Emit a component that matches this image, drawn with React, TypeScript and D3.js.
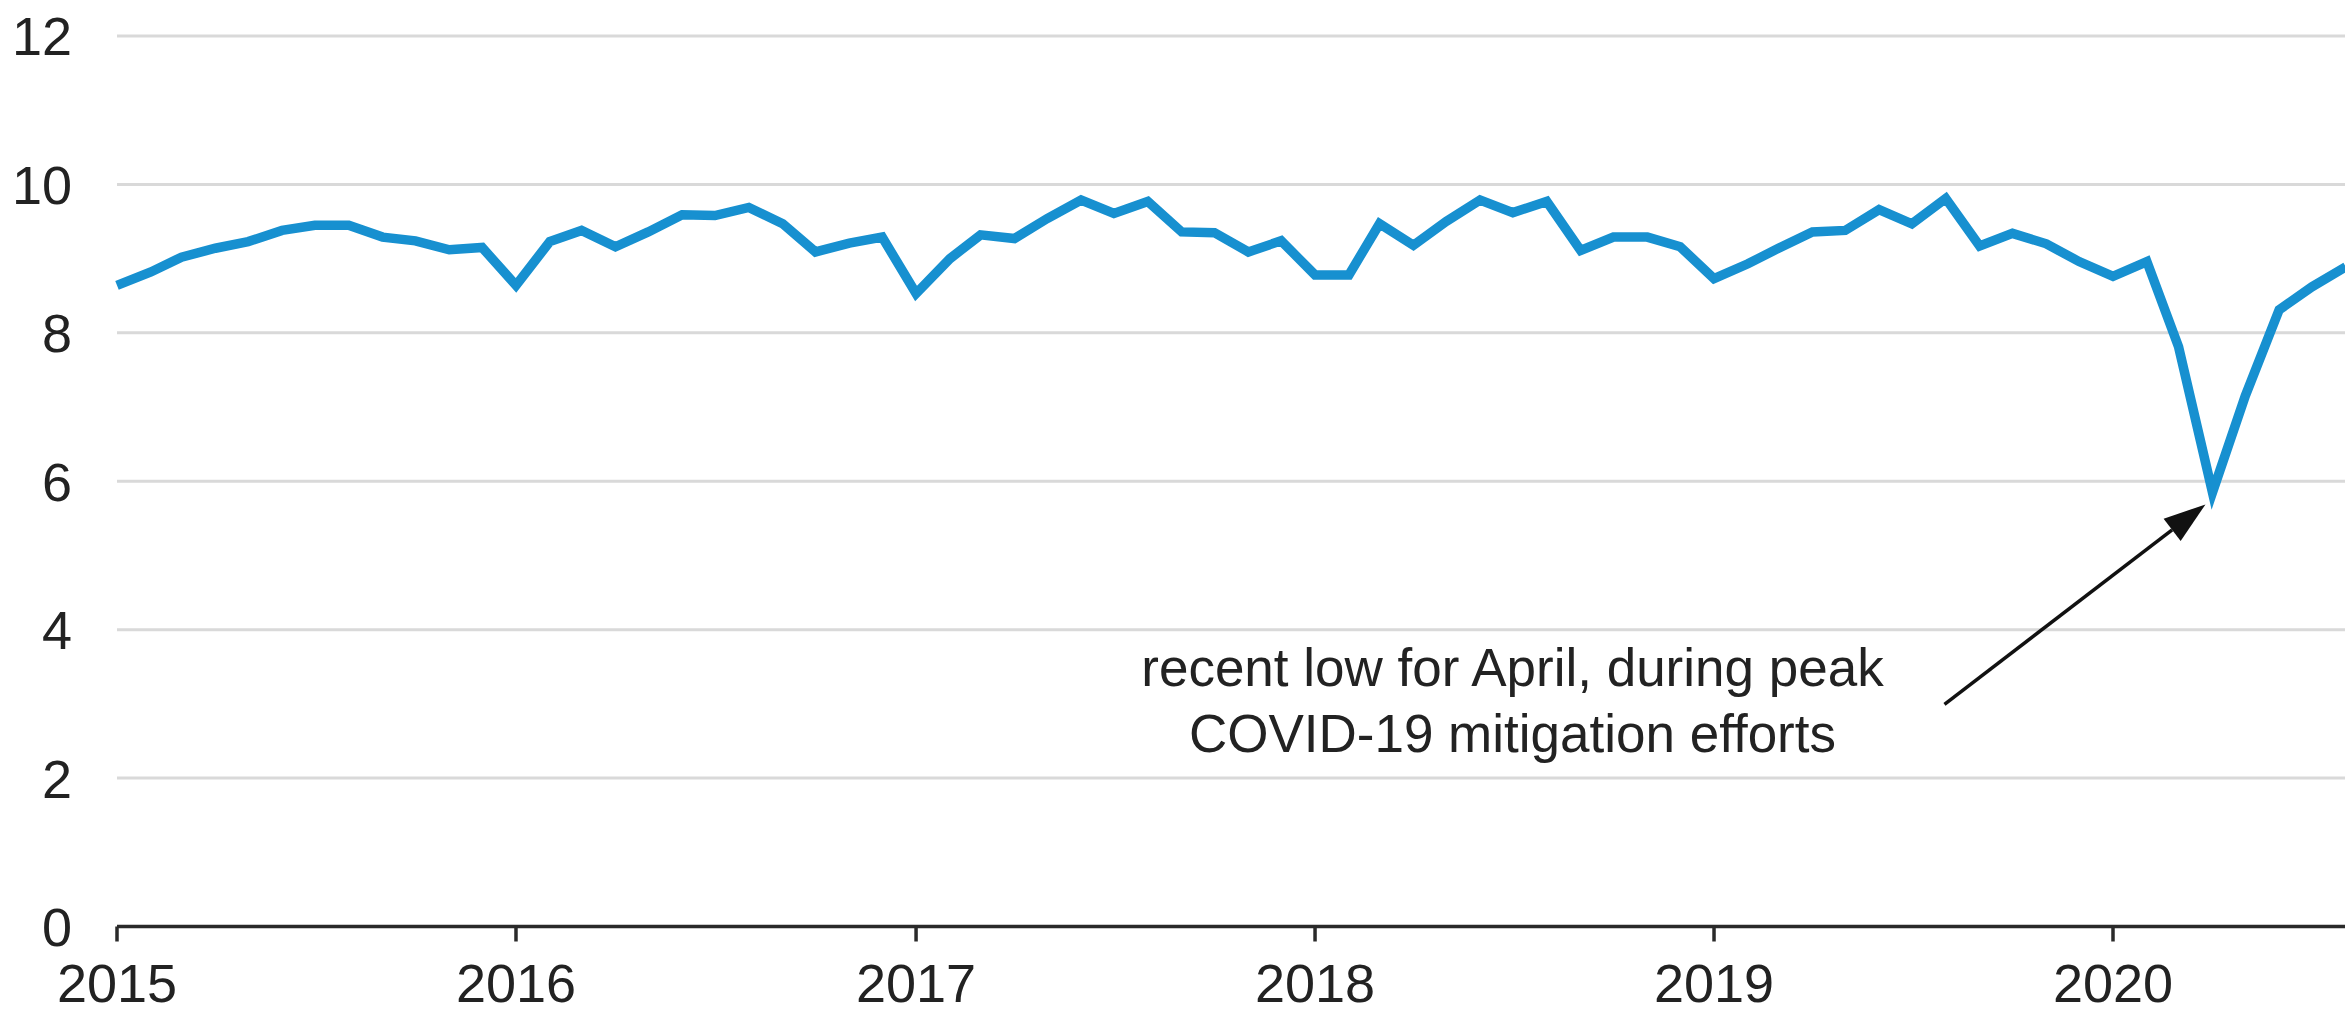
import React from "react";
import * as d3 from "d3";

const startMonth = new Date(2015, 0, 1);
const values: number[] = [
  // 2015
  8.64, 8.82, 9.02, 9.14, 9.23, 9.38, 9.45, 9.45, 9.29, 9.24, 9.12, 9.15,
  // 2016
  8.64, 9.23, 9.38, 9.16, 9.36, 9.59, 9.58, 9.69, 9.47, 9.09, 9.21, 9.29,
  // 2017
  8.53, 9.0, 9.32, 9.27, 9.54, 9.79, 9.61, 9.77, 9.36, 9.35, 9.09, 9.24,
  // 2018
  8.78, 8.78, 9.47, 9.18, 9.5, 9.79, 9.62, 9.77, 9.11, 9.29, 9.29, 9.16,
  // 2019
  8.73, 8.93, 9.14, 9.36, 9.38, 9.66, 9.47, 9.81, 9.17, 9.34, 9.2, 8.96,
  // 2020
  8.76, 8.96, 7.81, 5.85, 7.15, 8.31, 8.62, 8.89,
];
const yTicks = [0, 2, 4, 6, 8, 10, 12];
const xTickYears = [2015, 2016, 2017, 2018, 2019, 2020];
const annotationLines = [
  "recent low for April, during peak",
  "COVID-19 mitigation efforts",
];

const W = 2345;
const H = 1014;
const FONT = "'Liberation Sans', Arial, Helvetica, sans-serif";

export default function App() {
  const data = values.map((v, i) => ({ date: d3.timeMonth.offset(startMonth, i), v }));

  const x = d3
    .scaleTime()
    .domain([new Date(2015, 0, 1), new Date(2020, 0, 1)])
    .range([117, 2113]);
  const y = d3.scaleLinear().domain([0, 12]).range([926.5, 36]);

  const line = d3
    .line<{ date: Date; v: number }>()
    .x((d) => x(d.date))
    .y((d) => y(d.v));

  const x0 = x(new Date(2015, 0, 1));

  // annotation anchored to the lowest point
  const low = data.reduce((a, b) => (b.v < a.v ? b : a));
  const tipX = x(low.date) - 7;
  const tipY = y(low.v) + 12;
  const tailX = tipX - 261;
  const tailY = tipY + 200;
  const dx = tipX - tailX;
  const dy = tipY - tailY;
  const len = Math.hypot(dx, dy);
  const ux = dx / len;
  const uy = dy / len;
  const headLen = 42;
  const headHalf = 14;
  const bx = tipX - ux * headLen;
  const by = tipY - uy * headLen;
  const head = [
    [tipX, tipY],
    [bx - uy * headHalf, by + ux * headHalf],
    [bx + uy * headHalf, by - ux * headHalf],
  ]
    .map((p) => p.join(","))
    .join(" ");

  const textX = tailX - 432;
  const textY = tailY - 18;

  return (
    <svg
      width={W}
      height={H}
      viewBox={`0 0 ${W} ${H}`}
      style={{ position: "absolute", left: 0, top: 0, background: "#fff" }}
    >
      <rect x={0} y={0} width={W} height={H} fill="#fff" />
      {/* gridlines */}
      {yTicks
        .filter((t) => t !== 0)
        .map((t) => (
          <line
            key={`g${t}`}
            x1={x0}
            x2={W}
            y1={y(t)}
            y2={y(t)}
            stroke="#d9d9d9"
            strokeWidth={3}
          />
        ))}
      {/* y labels */}
      {yTicks.map((t) => (
        <text
          key={`yl${t}`}
          x={72}
          y={y(t)}
          dy="0.36em"
          textAnchor="end"
          fontFamily={FONT}
          fontSize={54}
          fill="#222"
        >
          {t}
        </text>
      ))}
      {/* data line */}
      <path
        d={line(data) || ""}
        fill="none"
        stroke="#1790d0"
        strokeWidth={9.5}
        strokeLinejoin="miter"
      />
      {/* x axis */}
      <line x1={x0} x2={W} y1={y(0)} y2={y(0)} stroke="#2a2a2a" strokeWidth={3.5} />
      {xTickYears.map((yr) => {
        const xx = x(new Date(yr, 0, 1));
        return (
          <g key={`xt${yr}`}>
            <line x1={xx} x2={xx} y1={y(0)} y2={y(0) + 15} stroke="#2a2a2a" strokeWidth={3.5} />
            <text
              x={xx}
              y={1002}
              textAnchor="middle"
              fontFamily={FONT}
              fontSize={54}
              fill="#222"
            >
              {yr}
            </text>
          </g>
        );
      })}
      {/* annotation */}
      {annotationLines.map((s, i) => (
        <text
          key={`an${i}`}
          x={textX}
          y={textY + i * 66}
          textAnchor="middle"
          fontFamily={FONT}
          fontSize={53}
          fill="#222"
        >
          {s}
        </text>
      ))}
      <line x1={tailX} y1={tailY} x2={bx} y2={by} stroke="#111" strokeWidth={3.5} />
      <polygon points={head} fill="#111" />
    </svg>
  );
}
